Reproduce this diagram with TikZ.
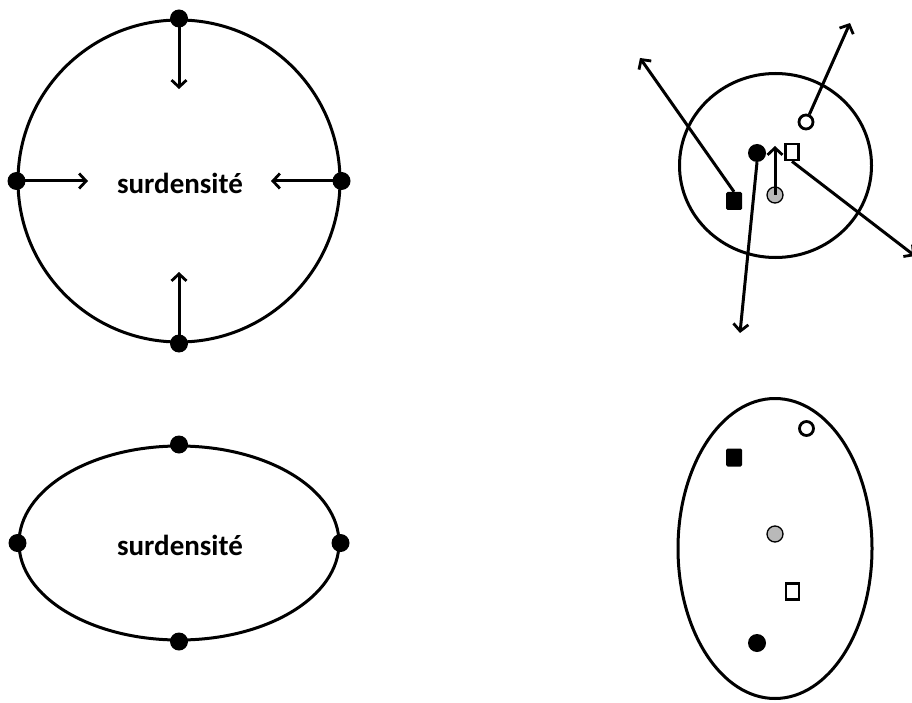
\documentclass[tikz,border=0pt]{standalone}
\usepackage{fontspec}
\setmainfont{Carlito}
\usetikzlibrary{arrows.meta,shapes.geometric}
\tikzset{
  outline/.style={draw, line width=3pt, inner sep=0pt},
  dotnode/.style={circle, fill=black, inner sep=0pt, minimum size=18pt},
  arr/.style={line width=3pt, -{Straight Barb[length=7pt,width=15pt,line width=2.8pt]}},
  lbl/.style={font=\fontsize{29}{32}\selectfont\bfseries},
  bdot/.style={circle, fill=black, inner sep=0pt, minimum size=18pt},
  odot/.style={circle, draw, line width=2.8pt, fill=white, inner sep=0pt, minimum size=14pt},
  gdot/.style={circle, draw, line width=1.3pt, fill=gray!55, inner sep=0pt, minimum size=16pt},
  bsq/.style={rectangle, fill=black, rounded corners=1.5pt, inner sep=0pt, minimum width=16pt, minimum height=18pt},
  osq/.style={rectangle, draw, line width=2.8pt, fill=white, inner sep=0pt, minimum width=13pt, minimum height=16pt},
}
\begin{document}
\begin{tikzpicture}[x=1pt,y=-1pt]
\useasboundingbox (0,0) rectangle (912,703);
\clip (0,0) rectangle (912,703);
% top-left circle
\node[outline, circle, minimum size=322pt] (c1) at (179,181) {};
\node[lbl] (t1) at (180,183) {surdensité};
\node[dotnode] (d1n) at (c1.north) {};
\node[dotnode] (d1s) at (c1.south) {};
\node[dotnode] (d1w) at (c1.west) {};
\node[dotnode] (d1e) at (c1.east) {};
\coordinate (e1n) at (179,89);
\coordinate (e1s) at (179,272);
\coordinate (e1w) at (88,181);
\coordinate (e1e) at (271,181);
\draw[arr] (d1n.center) -- (e1n);
\draw[arr] (d1s.center) -- (e1s);
\draw[arr] (d1w.center) -- (e1w);
\draw[arr] (d1e.center) -- (e1e);
% bottom-left ellipse
\node[outline, ellipse, minimum width=320pt, minimum height=194pt] (c2) at (179,543) {};
\node[lbl] (t2) at (180,545) {surdensité};
\node[dotnode] (d2n) at (c2.north) {};
\node[dotnode] (d2s) at (c2.south) {};
\node[dotnode] (d2w) at (c2.west) {};
\node[dotnode] (d2e) at (c2.east) {};
% top-right circle
\node[outline, ellipse, minimum width=192pt, minimum height=184pt] (c3) at (775.5,165.5) {};
\node[bdot] (bc3) at (757,153) {};
\node[odot] (oc3) at (806,122) {};
\node[osq] (os3) at (792,152) {};
\node[bsq] (bs3) at (734,201) {};
\node[gdot] (gc3) at (775,195) {};
\coordinate (ebs) at (640,58);
\coordinate (eoc) at (850,23);
\coordinate (ebc) at (740,333);
\coordinate (egc) at (775,146);
\coordinate (eos) at (915,256);
\draw[arr] (bs3.north) -- (ebs);
\draw[arr] (oc3) -- (eoc);
\draw[arr] (bc3.south) -- (ebc);
\draw[arr] (gc3.center) -- (egc);
\draw[arr] (os3.south) -- (eos);
% bottom-right ellipse
\node[outline, ellipse, minimum width=194pt, minimum height=300pt] (c4) at (775,548.5) {};
\node[odot] (oc4) at (806.5,428.5) {};
\node[bsq] (bs4) at (734,457.5) {};
\node[gdot] (gc4) at (775,534) {};
\node[osq] (os4) at (792.5,591.5) {};
\node[bdot] (bc4) at (757,643) {};
\end{tikzpicture}
\end{document}
